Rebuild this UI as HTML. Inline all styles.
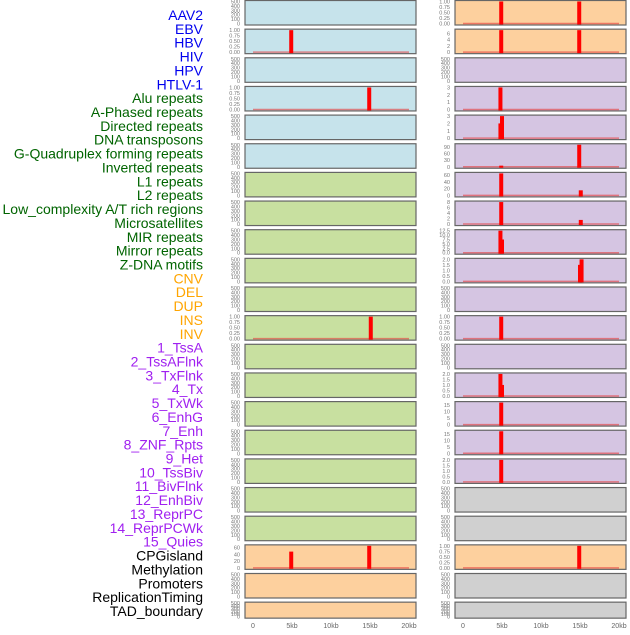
<!DOCTYPE html>
<html><head><meta charset="utf-8"><style>
body{margin:0;width:630px;height:630px;background:#fff;overflow:hidden;font-family:"Liberation Sans",sans-serif}
</style></head><body>
<svg id="chart" width="630" height="630" xmlns="http://www.w3.org/2000/svg"></svg>
<script>
const labels=["AAV2","EBV","HBV","HIV","HPV","HTLV-1","Alu repeats","A-Phased repeats","Directed repeats","DNA transposons","G-Quadruplex forming repeats","Inverted repeats","L1 repeats","L2 repeats","Low_complexity A/T rich regions","Microsatellites","MIR repeats","Mirror repeats","Z-DNA motifs","CNV","DEL","DUP","INS","INV","1_TssA","2_TssAFlnk","3_TxFlnk","4_Tx","5_TxWk","6_EnhG","7_Enh","8_ZNF_Rpts","9_Het","10_TssBiv","11_BivFlnk","12_EnhBiv","13_ReprPC","14_ReprPCWk","15_Quies","CPGisland","Methylation","Promoters","ReplicationTiming","TAD_boundary"];
const labelGroups=[0,0,0,0,0,0,1,1,1,1,1,1,1,1,1,1,1,1,1,2,2,2,2,2,3,3,3,3,3,3,3,3,3,3,3,3,3,3,3,4,4,4,4,4];
const xTicks=[0,5,10,15,20];
const xTickLabels=["0","5kb","10kb","15kb","20kb"];
const leftColors=["b","b","b","b","b","b","g","g","g","g","g","g","g","g","g","g","g","g","g","o","o","o"];
const rightColors=["o","o","p","p","p","p","p","p","p","p","p","p","p","p","p","p","p","g2","g2","o","g2","g2"];
// tick labels per panel
const T500=["0","100","200","300","400","500"];
const T1=["0.00","0.25","0.50","0.75","1.00"];
const leftTicks=[T500,T1,T500,T1,T500,T500,T500,T500,T500,T500,T500,T1,T500,T500,T500,T500,T500,T500,T500,["0","20","40","60"],T500,T500];
const leftMax=[500,1,500,1,500,500,500,500,500,500,500,1,500,500,500,500,500,500,500,65,500,500];
// bars: [position kb, value]
const leftBars=[[],[[4.9,1]],[],[[14.9,1]],[],[],[],[],[],[],[],[[15.1,1]],[],[],[],[],[],[],[],[[4.9,48],[14.9,65]],[],[]];
const rightTicks=[T1,["0","2","4","6"],T500,["0","1","2","3"],["0","1","2","3"],["0","30","60","90"],["0","20","40","60"],["0","2","4","6","8"],["0.0","2.5","5.0","7.5","10.0","12.5"],["0.0","0.5","1.0","1.5","2.0"],T500,T1,T500,["0.0","0.5","1.0","1.5","2.0"],["0","5","10","15"],["0","5","10","15"],["0.0","0.5","1.0","1.5","2.0"],T500,T500,T1,T500,T500];
const rightMax=[1,7,500,3,3,100,65,8,12.5,2,500,1,500,2,17,17,2,500,500,1,500,500];
const rightBars=[[[4.9,1],[14.9,1]],[[4.9,7],[14.9,7]],[],[[4.8,3]],[[4.8,2],[5.0,3]],[[4.9,5],[14.9,100]],[[4.9,65],[15.1,15]],[[4.9,8],[15.1,1.5]],[[4.8,12.5],[5.0,7.5]],[[15.0,1.5],[15.2,2]],[],[[4.9,1]],[],[[4.8,2],[5.0,1]],[[4.9,17]],[[4.9,17]],[[4.9,2]],[],[],[[14.9,1]],[],[]];
const NS="http://www.w3.org/2000/svg";
const svg=document.getElementById('chart');
const fills={b:"#c6e3eb",g:"#c8e0a0",o:"#fdd09e",p:"#d5c5e2",g2:"#d0d0d0"};
const gcol=["#0000ee","#006400","#ffa500","#a020f0","#000000"];
function mk(t,a){const e=document.createElementNS(NS,t);for(const k in a)e.setAttribute(k,a[k]);svg.appendChild(e);return e;}
labels.forEach((l,i)=>{
 const t=mk('text',{x:203,y:20+i*13.86,'text-anchor':'end','font-size':'14',fill:gcol[labelGroups[i]]});
 
 
 t.textContent=l;
});
function panel(px,i,color,ticks,max,bars,side){
 const top=i*28.65+0.5, h=(i==21?16:24.5);
 const xs=v=>px+8+v*7.8;
 const ys=v=>top+h-1.5-(v/max)*(h-2.5);
 const r=mk('rect',{x:px,y:top,width:171,height:h,fill:fills[color],stroke:'#666','stroke-width':1.2});
 
 
 ticks.forEach((tk,j)=>{
  const v=parseFloat(tk)*(max>=100&&ticks===T500?1:1);
  const t=mk('text',{x:px-5,y:ys(v)+2,'text-anchor':'end','font-size':'5.5',fill:'#777'});
  
  
  t.textContent=tk;
 });
 if(bars.length){
  const bl=mk('line',{x1:xs(0),x2:xs(20),y1:ys(0),y2:ys(0),stroke:'rgba(230,60,60,0.6)','stroke-width':1.5});
  
  
 }
 bars.forEach(b=>{
  const y=Math.max(ys(b[1]),top+0.5);
  const br=mk('rect',{x:xs(b[0])-2,y:y,width:4,height:ys(0)-y+1,fill:'#ff0000'});
  
  
 });
}
for(let i=0;i<22;i++){
 panel(245,i,leftColors[i],leftTicks[i],leftMax[i],leftBars[i],'left');
 panel(455,i,rightColors[i],rightTicks[i],rightMax[i],rightBars[i],'right');
}
[245,455].forEach((px,k)=>{
 xTicks.forEach((v,j)=>{
  const t=mk('text',{x:px+8+v*7.8,y:628,'text-anchor':'middle','font-size':'7',fill:'#666'});
  
  
  t.textContent=xTickLabels[j];
 });
});
</script>
</body></html>
